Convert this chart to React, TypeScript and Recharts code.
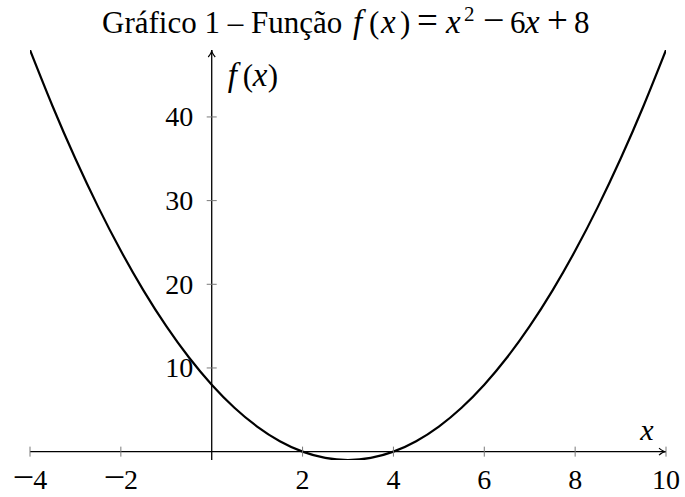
import React from 'react';
import { LineChart, Line, XAxis, YAxis, ReferenceLine, ReferenceDot } from 'recharts';

// Sample points of f(x) = x² − 6x + 8 on [-4, 10]
const xValues = [
  -4, -3.5, -3, -2.5, -2, -1.5, -1, -0.5, 0, 0.5, 1, 1.5, 2, 2.5, 3, 3.5, 4,
  4.5, 5, 5.5, 6, 6.5, 7, 7.5, 8, 8.5, 9, 9.5, 10,
];
const fValues = [
  48, 41.25, 35, 29.25, 24, 19.25, 15, 11.25, 8, 5.25, 3, 1.25, 0, -0.75, -1,
  -0.75, 0, 1.25, 3, 5.25, 8, 11.25, 15, 19.25, 24, 29.25, 35, 41.25, 48,
];
const xTicks = [-4, -2, 2, 4, 6, 8, 10];
const yTicks = [10, 20, 30, 40];
const xDomain: [number, number] = [-4, 10];
const yDomain: [number, number] = [-1, 48];

const data = xValues.map((x, i) => ({ x, y: fValues[i] }));

const FONT = "'Liberation Serif', 'Times New Roman', serif";
const TICK_COLOR = '#7a7a7a';
const TICK_FONT = 28;

// Axis line with an open arrow head at its end point
const ArrowLine = (props: any) => {
  const { x1, y1, x2, y2 } = props;
  const dx = x2 - x1;
  const dy = y2 - y1;
  const len = Math.sqrt(dx * dx + dy * dy) || 1;
  const ux = dx / len;
  const uy = dy / len;
  const px = -uy;
  const py = ux;
  const back = 7;
  const half = 3.5;
  const a = `${x2 - ux * back + px * half},${y2 - uy * back + py * half}`;
  const b = `${x2 - ux * back - px * half},${y2 - uy * back - py * half}`;
  return (
    <g>
      <line x1={x1} y1={y1} x2={x2} y2={y2} stroke="#000" strokeWidth={1.3} />
      <path
        d={`M${a} Q${x2 - ux * 3},${y2 - uy * 3} ${x2},${y2} Q${x2 - ux * 3},${y2 - uy * 3} ${b}`}
        fill="none"
        stroke="#000"
        strokeWidth={1.2}
      />
    </g>
  );
};

// Tick label with a wide math-style minus sign
const NumberLabel = ({ value }: { value: number }) =>
  value < 0 ? (
    <>
      <tspan fontSize={38} dy={1}>{'\u2212'}</tspan>
      <tspan dx={-1} dy={-1}>{Math.abs(value)}</tspan>
    </>
  ) : (
    <>{value}</>
  );

const XTickMark = (props: any) => {
  const { cx, cy, value } = props;
  return (
    <g>
      <line x1={cx} y1={cy - 5} x2={cx} y2={cy + 5} stroke={TICK_COLOR} strokeWidth={1} />
      <text x={cx} y={cy + 37.5} textAnchor="middle" fontFamily={FONT} fontSize={TICK_FONT} fill="#000">
        <NumberLabel value={value} />
      </text>
    </g>
  );
};

const YTickMark = (props: any) => {
  const { cx, cy, value } = props;
  return (
    <g>
      <line x1={cx - 5} y1={cy} x2={cx + 5} y2={cy} stroke={TICK_COLOR} strokeWidth={1} />
      <text x={cx - 18.5} y={cy + 9.5} textAnchor="end" fontFamily={FONT} fontSize={TICK_FONT} fill="#000">
        <NumberLabel value={value} />
      </text>
    </g>
  );
};

const XAxisName = (props: any) => {
  const { cx, cy } = props;
  return (
    <text x={cx - 19} y={cy - 11.5} textAnchor="middle" fontFamily={FONT} fontSize={30} fontStyle="italic" fill="#000">
      x
    </text>
  );
};

const YAxisName = (props: any) => {
  const { cx, cy } = props;
  const y = cy + 35.5;
  return (
    <text y={y} textAnchor="start" fontFamily={FONT} fontSize={31} fill="#000">
      <tspan x={cx + 16} fontSize={33} fontStyle="italic">f</tspan>
      <tspan x={cx + 31}>(</tspan>
      <tspan x={cx + 41} fontSize={33} fontStyle="italic">x</tspan>
      <tspan x={cx + 56}>)</tspan>
    </text>
  );
};

// Chart title with math-style spacing for the formula
const Title = () => (
  <svg width={685} height={50} style={{ position: 'absolute', left: 0, top: 0 }}>
    <text y={33} fontFamily={FONT} fontSize={31} fill="#000">
      <tspan x={102}>Gráfico 1 – Função</tspan>
      <tspan x={353} fontSize={33} fontStyle="italic">f</tspan>
      <tspan x={369}>(</tspan>
      <tspan x={381} fontSize={33} fontStyle="italic">x</tspan>
      <tspan x={400}>)</tspan>
      <tspan x={417} fontSize={37}>=</tspan>
      <tspan x={446} fontSize={33} fontStyle="italic">x</tspan>
      <tspan x={464} dy={-12} fontSize={21}>2</tspan>
      <tspan x={483} dy={12} fontSize={38}>{'\u2212'}</tspan>
      <tspan x={510}>6</tspan>
      <tspan x={525} fontSize={33} fontStyle="italic">x</tspan>
      <tspan x={547} fontSize={37}>+</tspan>
      <tspan x={574}>8</tspan>
    </text>
  </svg>
);

export default function App() {
  return (
    <div style={{ position: 'absolute', left: 0, top: 0, width: 685, height: 497, background: '#fff' }}>
      <Title />
      <div style={{ position: 'absolute', left: 0, top: 0 }}>
        <LineChart
          width={685}
          height={497}
          data={data}
          margin={{ top: 50, right: 19, bottom: 37, left: 30 }}
        >
          <XAxis dataKey="x" type="number" domain={xDomain} allowDataOverflow hide />
          <YAxis type="number" domain={yDomain} allowDataOverflow hide />
          <ReferenceLine
            segment={[{ x: xDomain[0], y: 0 }, { x: xDomain[1], y: 0 }]}
            shape={ArrowLine}
            ifOverflow="visible"
          />
          <ReferenceLine
            segment={[{ x: 0, y: yDomain[0] }, { x: 0, y: yDomain[1] }]}
            shape={ArrowLine}
            ifOverflow="visible"
          />
          {xTicks.map((v) => (
            <ReferenceDot
              key={`xt${v}`}
              x={v}
              y={0}
              ifOverflow="visible"
              shape={(p: any) => <XTickMark {...p} value={v} />}
            />
          ))}
          {yTicks.map((v) => (
            <ReferenceDot
              key={`yt${v}`}
              x={0}
              y={v}
              ifOverflow="visible"
              shape={(p: any) => <YTickMark {...p} value={v} />}
            />
          ))}
          <ReferenceDot x={xDomain[1]} y={0} ifOverflow="visible" shape={XAxisName} />
          <ReferenceDot x={0} y={yDomain[1]} ifOverflow="visible" shape={YAxisName} />
          <Line
            dataKey="y"
            type="natural"
            stroke="#000"
            strokeWidth={2.2}
            dot={false}
            activeDot={false}
            isAnimationActive={false}
          />
        </LineChart>
      </div>
    </div>
  );
}
